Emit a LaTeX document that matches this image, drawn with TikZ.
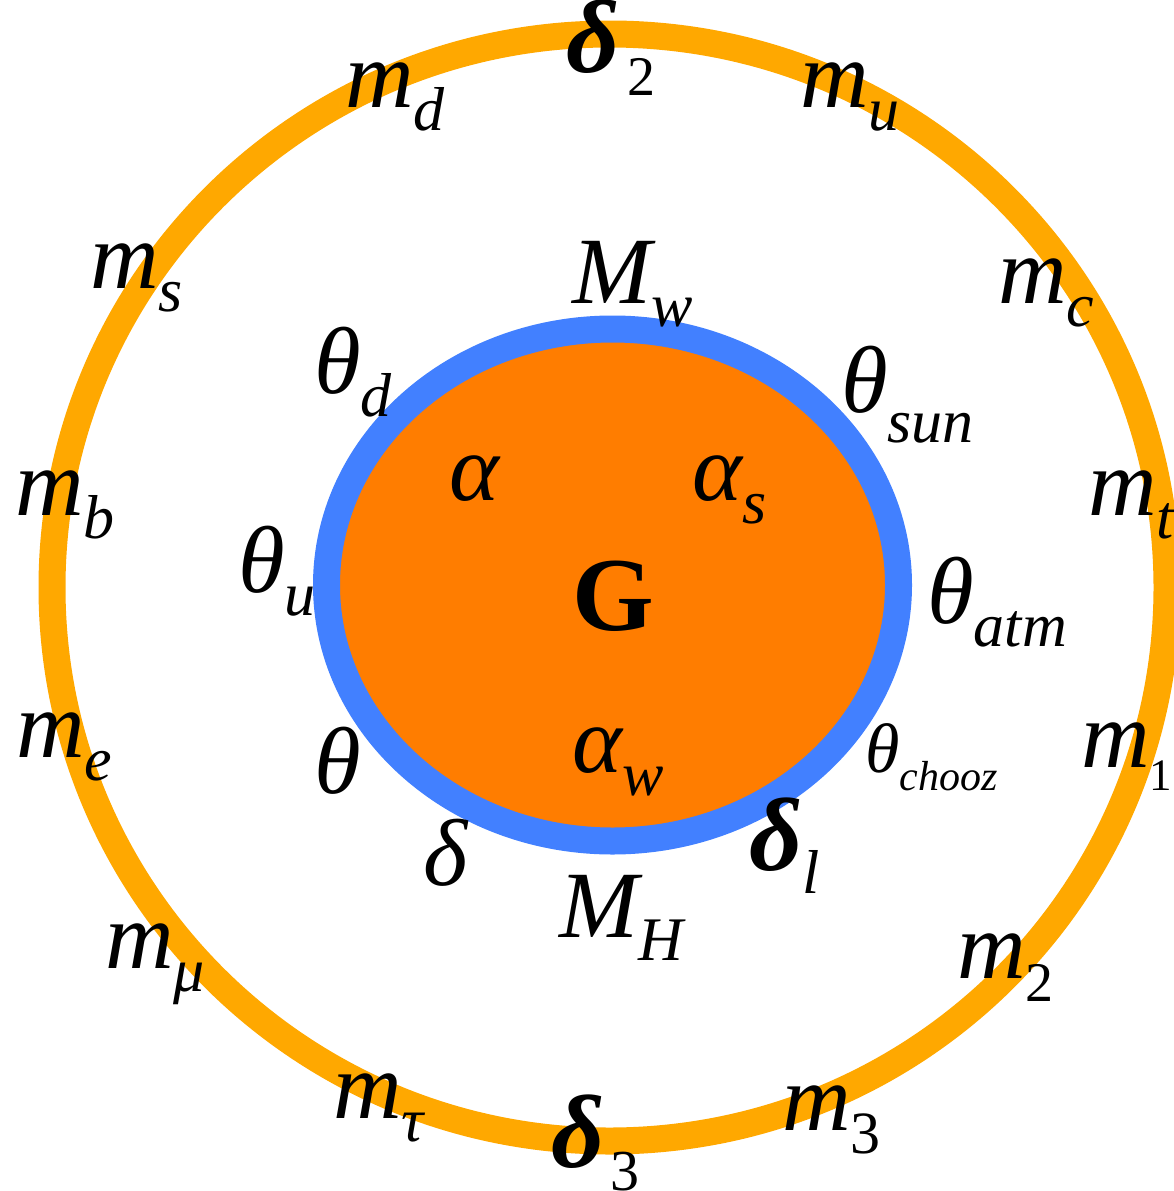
\documentclass[tikz,border=0pt]{standalone}
\usepackage{fontspec}
\setmainfont{Liberation Serif}
\usepackage{xcolor}

\definecolor{ringorange}{RGB}{255,168,0}
\definecolor{ringblue}{RGB}{66,128,255}
\definecolor{coreorange}{RGB}{255,125,0}

\newcommand{\lsub}[3][62]{#2\raisebox{-23pt}{\fontsize{#1}{#1}\selectfont #3}}
\newcommand{\bdelta}{{\fontsize{104}{104}\selectfont\bfseries\itshape δ}}

\begin{document}
\begin{tikzpicture}[x=1pt, y=-1pt,
	lbl/.style={anchor=base west, inner sep=0pt, font=\fontsize{95}{95}\selectfont\itshape}]
		\useasboundingbox (0,0) rectangle (1173,1191);
		
		% 外环
		\draw[ringorange, line width=27pt] (609.5,587.5) ellipse [x radius=557.5pt, y radius=553.5pt];
		
		% 内核
		\filldraw[fill=coreorange, draw=ringblue, line width=27pt] (612.5,585) ellipse [x radius=286pt, y radius=256pt];
		\node[anchor=base, inner sep=0pt, font=\fontsize{105}{105}\selectfont\bfseries] (G) at (613,630) {G};
		
		% 外环参数
		\node[lbl] (d2) at (566,72) {\lsub[56]{\bdelta\kern8pt}{\upshape 2}};
		\node[lbl] (md) at (345,107) {\lsub{m}{d}};
		\node[lbl] (mu) at (800,107) {\lsub{m}{u}};
		\node[lbl] (ms) at (90,288) {\lsub{m}{s}};
		\node[lbl] (mc) at (998,303) {\lsub{m}{c}};
		\node[lbl] (mb) at (15,515) {\lsub{m}{b}};
		\node[lbl] (mt) at (1088,515) {\lsub{m}{t}};
		\node[lbl] (me) at (16,757) {\lsub{m}{e}};
		\node[lbl] (m1) at (1081,767) {\lsub[45]{m}{\upshape 1}};
		\node[lbl] (mmu) at (105,968) {\lsub{m}{μ}};
		\node[lbl] (m2) at (957,978) {\lsub[56]{m}{\upshape 2}};
		\node[lbl] (mtau) at (333,1118) {\lsub{m}{τ}};
		\node[lbl] (m3) at (782,1130) {\lsub[60]{m}{\upshape 3}};
		\node[lbl] (d3) at (551,1167) {\lsub[58]{\bdelta\kern6pt}{\upshape 3}};
		
		% 内环参数
		\node[lbl] (Mw) at (572,303) {\lsub{M}{w}};
		\node[lbl] (thd) at (314,393) {\lsub{θ}{d}};
		\node[lbl] (thsun) at (841,412) {θ\raisebox{-30pt}{\fontsize{62}{62}\selectfont sun}};
		\node[lbl] (thu) at (238,592) {\lsub{θ}{u}};
		\node[lbl] (thatm) at (927,623) {\lsub{θ}{atm}};
		\node[lbl] (th) at (314,793) {θ};
		\node[lbl, font=\fontsize{70}{70}\selectfont\itshape] (thch) at (865,772) {θ\raisebox{-18pt}{\fontsize{42}{42}\selectfont chooz}};
		\node[lbl] (de) at (423,885) {δ};
		\node[lbl] (dl) at (749,870) {\lsub{\bdelta}{l}};
		\node[lbl] (MH) at (559,937) {\lsub{M}{H}};
		
		% 核内参数
		\node[lbl] (al) at (449,500) {α};
		\node[lbl] (als) at (692,500) {\lsub{α}{s}};
		\node[lbl] (alw) at (572,772) {\lsub{α}{w}};
	\end{tikzpicture}
\end{document}
